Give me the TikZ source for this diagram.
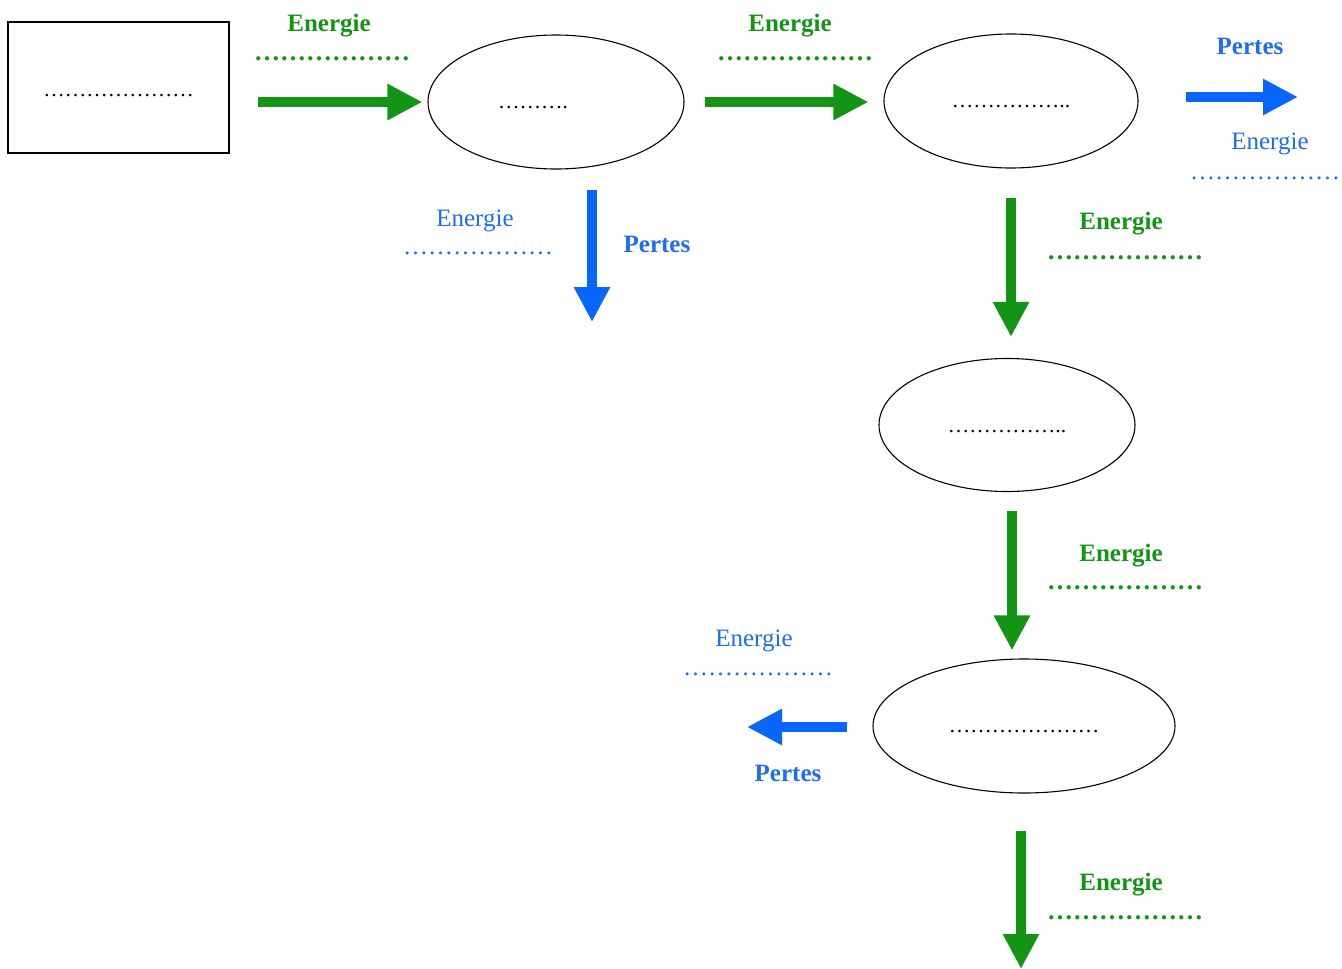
\documentclass[tikz,border=0pt]{standalone}
\usepackage{fontspec}
\setmainfont{Liberation Serif}
\usetikzlibrary{arrows.meta,shapes.geometric}
\definecolor{eg}{RGB}{20,148,20}
\definecolor{eb}{RGB}{8,102,250}
\definecolor{ebt}{RGB}{30,110,235}
\begin{document}
\begin{tikzpicture}[x=1pt,y=-1pt,
  ell/.style={draw, ellipse, line width=1.1pt, inner sep=0pt, text depth=0pt},
  blk/.style={font=\fontsize{21.5}{24}\selectfont},
  gword/.style={anchor=base, text=eg, font=\fontsize{25}{30}\selectfont\bfseries, inner sep=0pt},
  bword/.style={anchor=base, text=ebt, font=\fontsize{25}{30}\selectfont, inner sep=0pt},
  bbold/.style={anchor=base, text=ebt, font=\fontsize{25}{30}\selectfont\bfseries, inner sep=0pt},
  gdots/.style={anchor=base, text=eg, font=\fontsize{26}{30}\selectfont\bfseries, inner sep=0pt},
  bdots/.style={anchor=base, text=ebt, font=\fontsize{25}{30}\selectfont, inner sep=0pt},
  garrow/.style={draw=eg, line width=10pt, -{Triangle[length=35pt,width=34pt,fill=eg]}},
  barrow/.style={draw=eb, line width=10pt, -{Triangle[length=35pt,width=34pt,fill=eb]}}]
\useasboundingbox[fill=white] (0,0) rectangle (1342,969);

% main nodes
\node[draw, line width=1.3pt, minimum width=221pt, minimum height=131pt, inner sep=0pt,
      blk, text height=17pt, text depth=0pt] (src) at (118.5,87.5) {…………………};
\node[ell, blk, minimum width=256pt, minimum height=134pt, text height=12pt] (e1) at (556,102) {\hspace*{-46pt}……….};
\node[ell, blk, minimum width=254pt, minimum height=134pt, text height=13pt] (e2) at (1011,101) {……………..};
\node[ell, blk, minimum width=256pt, minimum height=133pt, text height=15pt] (e3) at (1007,425) {……………..};
\node[ell, blk, minimum width=302pt, minimum height=134pt, text height=13pt] (e4) at (1024,726) {…………………};

% free ends
\coordinate (o1) at (1298,97);
\coordinate (o2) at (592,322);
\coordinate (o3) at (747,727);
\coordinate (o4) at (1021,969);

% arrows
\draw[garrow, shorten <=28pt, shorten >=5pt] (src.east |- e1.west) -- (e1.west);
\draw[garrow, shorten <=20pt, shorten >=15pt] (e1.east) -- (e1.east -| e2.west);
\draw[barrow, shorten <=47pt] (e2.east |- o1) -- (o1);
\draw[barrow, shorten <=20pt] (o2 |- e1.south) -- (o2);
\draw[garrow, shorten <=29pt, shorten >=21pt] (e2.south) -- (e2.south |- e3.north);
\draw[garrow, shorten <=19pt, shorten >=8pt] ([xshift=5pt]e3.south) -- ([xshift=5pt]e3.south |- e4.north);
\draw[barrow, shorten <=25pt] (e4.west |- o3) -- (o3);
\draw[garrow, shorten <=37pt] (o4 |- e4.south) -- (o4);

% labels
\node[gword] (l1) at (329,31) {Energie};
\node[gdots] (d1) at (332,60) {………………};
\node[gword] (l2) at (790,31) {Energie};
\node[gdots] (d2) at (795,60) {………………};

\node[bbold] (p1) at (1250,54) {Pertes};
\node[bword] (l3) at (1270,149) {Energie};
\node[bdots] (d3) at (1265,179) {………………};

\node[bword] (l4) at (475,226) {Energie};
\node[bdots] (d4) at (478,254) {………………};
\node[bbold] (p2) at (657,252) {Pertes};

\node[gword] (l5) at (1121,229) {Energie};
\node[gdots] (d5) at (1125,259) {………………};
\node[gword] (l6) at (1121,561) {Energie};
\node[gdots] (d6) at (1125,589) {………………};

\node[bword] (l7) at (754,646) {Energie};
\node[bdots] (d7) at (758,675) {………………};
\node[bbold] (p3) at (788,781) {Pertes};

\node[gword] (l8) at (1121,890) {Energie};
\node[gdots] (d8) at (1125,919) {………………};
\end{tikzpicture}
\end{document}
